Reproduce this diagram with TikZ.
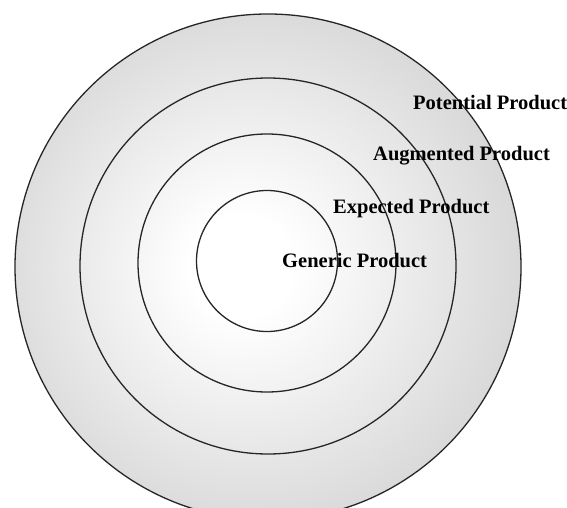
\documentclass[tikz,border=0pt]{standalone}
\usepackage{fontspec}
\setmainfont{Liberation Serif}
\usetikzlibrary{positioning}

% soft light centre fading to grey at the rim
\pgfdeclareradialshading{coreglow}{\pgfpoint{-3bp}{0bp}}{color(0bp)=(white); color(5bp)=(white); color(32bp)=(black!19); color(50bp)=(black!23)}

\begin{document}
\begin{tikzpicture}[
  x=1pt, y=-1pt,
  ring/.style={circle, draw=black!85, line width=1.3pt, inner sep=0pt},
  lbl/.style={anchor=west, inner sep=0pt, font=\fontsize{20.5}{23}\selectfont\bfseries},
]
\useasboundingbox (0,0) rectangle (567,508);
\clip (0,0) rectangle (567,508);

% rings, outer to inner
\node[ring, shading=coreglow, minimum size=506pt] (potential) at (268,267) {};
\node[ring, minimum size=376pt] (augmented) at (268,266) {};
\node[ring, minimum size=258pt] (expected) at (267,263) {};
\node[ring, minimum size=141pt] (generic) at (267,261) {};

% labels
\node[lbl] (potential-lbl) at (413,103) {Potential Product};
\node[lbl] (augmented-lbl) at (373,156) {Augmented Product};
\node[lbl] (expected-lbl) at (333,209) {Expected Product};
\node[lbl] (generic-lbl) at (282,261) {Generic Product};

\end{tikzpicture}
\end{document}
